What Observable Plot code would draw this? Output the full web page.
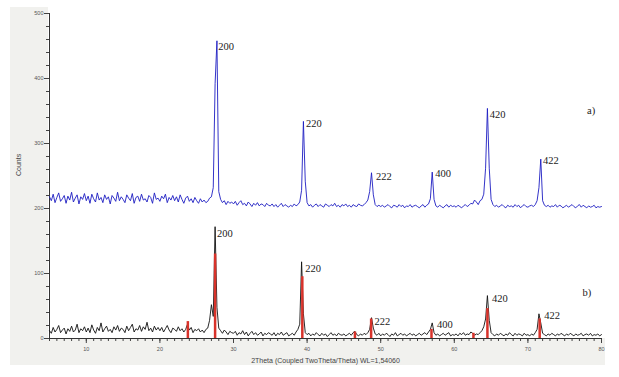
<!DOCTYPE html>
<html>
<head>
<meta charset="utf-8">
<script src="https://cdn.jsdelivr.net/npm/d3@7"></script>
<script src="https://cdn.jsdelivr.net/npm/@observablehq/plot@0.6"></script>
<style>
  body { margin: 0; background: white; }
  #wrap { position: relative; width: 619px; height: 377px; }
  .bg { position: absolute; background: #f1f1ee; }
  #chart { position: absolute; left: 0; top: 0; }
  #chart svg { font-family: "Liberation Sans", Arial, sans-serif; }
</style>
</head>
<body>
<div id="wrap">
  <div class="bg" style="left:10px; top:7px; width:38px; height:358px;"></div>
  <div class="bg" style="left:10px; top:338px; width:595px; height:27px;"></div>
  <div id="chart"></div>
</div>
<script>
// 2Theta grid of the digitised patterns
const thetaStart = 5;
const thetaStep = 0.25;

// a) blue pattern, counts
const countsA = [
218,212,222,209,217,224,211,215,220,208,219,213,225,210,216,221,207,218,214,223,
212,219,208,222,215,210,224,213,217,209,221,214,218,207,220,216,211,225,212,218,
214,209,221,216,212,223,208,217,219,211,222,213,215,210,220,217,208,224,214,216,
211,219,215,222,209,217,213,220,212,218,210,221,214,208,216,219,211,215,209,217,
212,208,215,210,213,209,211,216,218,232,392,458,226,214,209,212,206,211,208,210,
207,211,205,209,212,206,208,204,210,207,203,208,205,209,204,207,206,203,208,205,
204,207,203,206,202,205,208,203,206,204,202,205,203,207,204,206,210,228,334,242,
209,204,206,202,205,207,203,206,204,202,207,205,203,206,204,208,203,205,202,206,
204,207,203,205,202,206,204,203,207,205,204,206,209,213,226,255,221,206,203,205,
203,205,202,204,206,203,201,205,204,202,206,203,205,201,204,203,206,202,204,205,
203,201,204,206,202,205,207,215,256,214,204,202,205,203,201,204,206,202,205,203,
204,202,205,203,201,204,206,203,205,208,207,213,210,206,212,214,222,262,354,262,
214,206,203,205,202,204,206,203,201,205,203,204,202,206,203,205,201,204,206,203,
202,204,205,203,206,212,232,276,212,205,203,205,202,204,203,206,202,205,204,201,
203,205,202,204,206,203,201,204,206,202,205,203,201,204,202,203,205,201,203,202,
203
];

// b) black pattern, counts
const countsB = [
12,8,17,10,14,20,9,13,16,7,15,11,19,10,13,22,9,15,12,18,
10,16,9,21,13,8,17,12,24,10,15,19,11,14,9,18,13,20,11,16,
14,9,19,12,17,22,10,15,13,20,11,18,14,25,12,16,10,19,13,17,
12,17,10,15,20,13,9,16,14,11,18,12,15,10,14,22,13,17,9,14,
12,15,10,13,9,14,16,28,52,34,172,48,16,12,8,13,10,6,11,9,
8,11,5,9,7,12,6,10,4,8,11,6,9,5,7,10,4,8,6,9,
7,5,9,4,8,6,10,5,7,9,4,6,8,5,10,14,22,118,38,9,
6,8,4,7,5,9,6,4,8,5,7,3,6,9,5,7,4,8,6,5,
7,4,6,8,5,9,11,6,4,7,5,8,6,9,14,32,16,7,5,8,
4,7,5,8,6,3,7,5,9,4,6,8,5,7,4,6,8,5,7,4,
6,8,5,7,9,6,10,14,24,9,5,7,4,6,8,5,7,9,4,6,
5,7,4,8,6,9,5,7,6,10,8,5,7,6,9,12,18,30,66,28,
9,6,4,7,5,8,6,4,7,5,9,6,4,8,5,7,6,4,8,5,
6,4,7,5,9,14,38,24,8,6,4,7,5,8,6,4,7,5,8,6,
4,7,5,8,6,4,7,5,6,8,4,6,7,5,8,4,6,5,7,4,
6
];

// red reference lines under pattern b)
const refTheta = [23.8, 27.5, 39.35, 46.5, 48.7, 56.9, 62.6, 64.5, 71.6];
const refCounts = [26, 130, 95, 10, 30, 14, 8, 46, 30];

// peak labels (hkl) for a) and b)
const hklLabels = ["200", "220", "222", "400", "420", "422"];
const labelThetaA = [27.93, 39.85, 49.36, 57.42, 64.8, 72.05];
const labelCountA = [449, 331, 249, 253, 345, 273];
const labelThetaB = [27.76, 39.76, 49.17, 57.65, 65.12, 72.23];
const labelCountB = [161, 107, 26, 21, 61, 35];

// pattern tags
const tags = ["a)", "b)"];
const tagTheta = [78.6, 78.0];
const tagCount = [350, 70];

// tick values and axis titles
const xMajor = [10, 20, 30, 40, 50, 60, 70, 80];
const yMajor = [0, 100, 200, 300, 400, 500];
const xTitle = "2Theta (Coupled TwoTheta/Theta) WL=1,54060";
const yTitle = "Counts";

const seriesA = countsA.map((c, i) => ({theta: thetaStart + i * thetaStep, counts: c}));
const seriesB = countsB.map((c, i) => ({theta: thetaStart + i * thetaStep, counts: c}));
const refs = refTheta.map((t, i) => ({theta: t, counts: refCounts[i]}));
const labA = hklLabels.map((l, i) => ({label: l, theta: labelThetaA[i], counts: labelCountA[i]}));
const labB = hklLabels.map((l, i) => ({label: l, theta: labelThetaB[i], counts: labelCountB[i]}));
const tagData = tags.map((l, i) => ({label: l, theta: tagTheta[i], counts: tagCount[i]}));

const serif = "'Liberation Serif', 'Times New Roman', serif";

const chart = Plot.plot({
  width: 619,
  height: 377,
  marginLeft: 49,
  marginRight: 18,
  marginTop: 13,
  marginBottom: 39,
  style: {background: "transparent", color: "#555"},
  x: {domain: [5, 80]},
  y: {domain: [0, 500]},
  marks: [
    Plot.axisY({ticks: d3.range(0, 501, 20), tickSize: 3, text: null, label: null, stroke: "#444"}),
    Plot.axisY({ticks: yMajor, tickSize: 5, tickPadding: 1, fontSize: 5.5, stroke: "#444", label: null}),
    Plot.axisX({ticks: d3.range(5, 81, 1), tickSize: 3, text: null, label: null, stroke: "#444"}),
    Plot.axisX({ticks: xMajor, tickSize: 5, tickPadding: 4, fontSize: 5.5, stroke: "#444", label: null}),
    Plot.text([yTitle], {frameAnchor: "left", rotate: -90, dx: -31, fontSize: 7, fill: "#444"}),
    Plot.text([xTitle], {frameAnchor: "bottom", dy: 24, fontSize: 7, fill: "#444"}),
    Plot.frame({anchor: "left", stroke: "#333"}),
    Plot.frame({anchor: "bottom", stroke: "#333"}),
    Plot.line(seriesA, {x: "theta", y: "counts", stroke: "#1d1dc2", strokeWidth: 0.9}),
    Plot.line(seriesB, {x: "theta", y: "counts", stroke: "#111", strokeWidth: 0.9}),
    Plot.ruleX(refs, {x: "theta", y1: 0, y2: "counts", stroke: "#d8322a", strokeWidth: 2.5}),
    Plot.text(labA, {x: "theta", y: "counts", text: "label", textAnchor: "start", fontSize: 10.5, fontFamily: serif, fill: "#222"}),
    Plot.text(labB, {x: "theta", y: "counts", text: "label", textAnchor: "start", fontSize: 10.5, fontFamily: serif, fill: "#222"}),
    Plot.text(tagData, {x: "theta", y: "counts", text: "label", fontSize: 10.5, fontFamily: serif, fill: "#222"})
  ]
});
document.getElementById("chart").appendChild(chart);
</script>
</body>
</html>
